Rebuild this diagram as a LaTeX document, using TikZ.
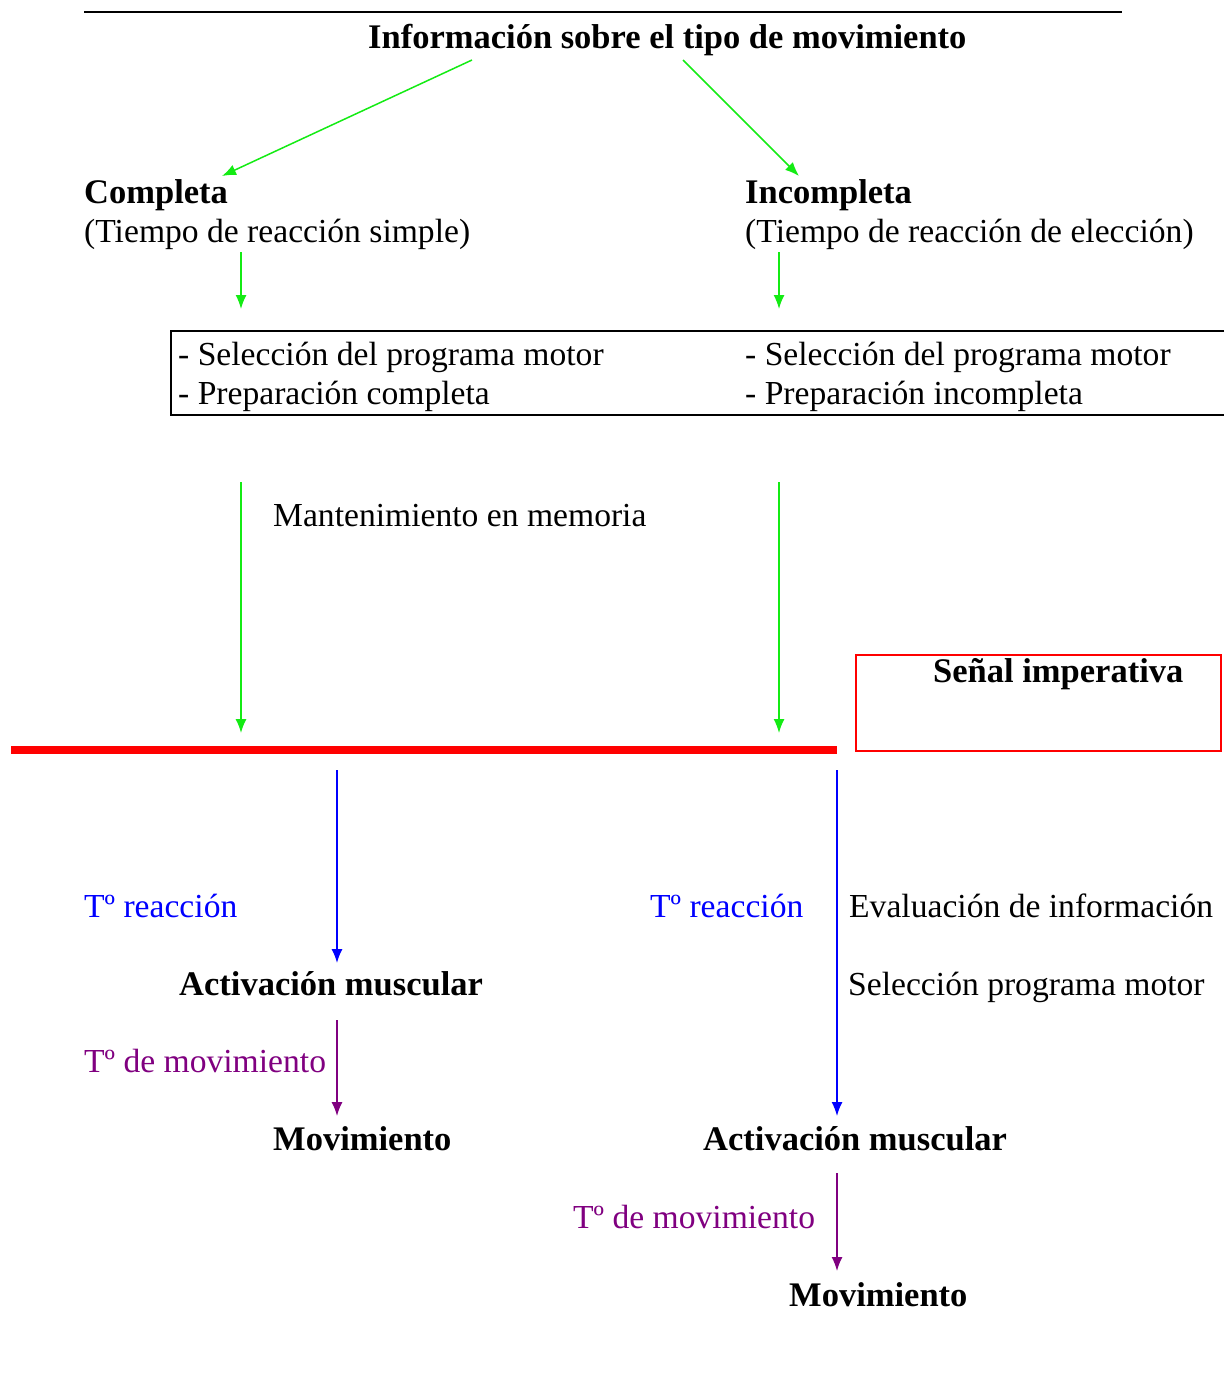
\documentclass[tikz,border=0pt]{standalone}
\usepackage{fontspec}
\setmainfont{Liberation Serif}
\usetikzlibrary{arrows.meta}
\definecolor{lgreen}{RGB}{20,235,20}
\definecolor{tblue}{RGB}{0,0,255}
\definecolor{tpurple}{RGB}{128,0,128}
\definecolor{tred}{RGB}{255,0,0}

\tikzset{
  txt/.style={anchor=base west, inner sep=0pt, font=\fontsize{33.6}{40}\selectfont},
  bold/.style={txt, font=\fontsize{34.5}{40}\selectfont\bfseries},
  tip/.style={-{Latex[length=14pt,width=11pt]}, line width=1.5pt},
  garrow/.style={tip, draw=lgreen},
  barrow/.style={tip, draw=tblue},
  parrow/.style={tip, draw=tpurple}
}

\begin{document}
\begin{tikzpicture}[x=1pt, y=-1pt]
\useasboundingbox (0,0) rectangle (1224,1380);
\draw[line width=2pt] (84,12) -- (1122,12);
\node[bold] at (368, 49) (title) {Información sobre el tipo de movimiento};
\node[bold] at (84, 204) (compl) {Completa};
\node[txt] at (84, 243) (complsub) {(Tiempo de reacción simple)};
\node[bold] at (745, 204) (incompl) {Incompleta};
\node[txt] at (745, 243) (incomplsub) {(Tiempo de reacción de elección)};
\coordinate (t1) at (472, 60);
\coordinate (t2) at (683, 60);
\coordinate (c1) at (222, 176);
\coordinate (c2) at (799, 176);
\draw[garrow] (t1) -- (c1);
\draw[garrow] (t2) -- (c2);
% recuadro de seleccion
\draw[line width=1.5pt] (1224, 331) -- (171, 331) -- (171, 415) -- (1224, 415);
\node[txt] at (178, 365) (selA) {- Selección del programa motor};
\node[txt] at (178, 404) (prepA) {- Preparación completa};
\node[txt] at (745, 365) (selB) {- Selección del programa motor};
\node[txt] at (745, 404) (prepB) {- Preparación incompleta};
\coordinate (a1) at (241, 252);
\coordinate (a2) at (241, 309);
\coordinate (b1) at (779, 252);
\coordinate (b2) at (779, 309);
\draw[garrow] (a1) -- (a2);
\draw[garrow] (b1) -- (b2);
\node[txt] at (273, 526) (mant) {Mantenimiento en memoria};
\coordinate (a3) at (241, 482);
\coordinate (a4) at (241, 733);
\coordinate (b3) at (779, 482);
\coordinate (b4) at (779, 733);
\draw[garrow] (a3) -- (a4);
\draw[garrow] (b3) -- (b4);
% senal
\draw[tred, line width=2pt] (856, 655) rectangle (1221, 751);
\node[bold] at (933, 682) (senal) {Señal imperativa};
\coordinate (r1) at (11, 750);
\coordinate (r2) at (837, 750);
\draw[tred, line width=8pt] (r1) -- (r2);
% lado simple
\node[txt, text=tblue] at (84, 917) (treacA) {Tº reacción};
\node[bold] at (179, 995) (activA) {Activación muscular};
\node[txt, text=tpurple] at (84, 1072) (tmovA) {Tº de movimiento};
\node[bold] at (273, 1150) (movA) {Movimiento};
\coordinate (p1) at (337, 770);
\coordinate (p2) at (337, 963);
\coordinate (p3) at (337, 1020);
\coordinate (p4) at (337, 1116);
\draw[barrow] (p1) -- (p2);
\draw[parrow] (p3) -- (p4);
% lado eleccion
\node[txt, text=tblue] at (650, 917) (treacB) {Tº reacción};
\node[txt] at (849, 917) (evalinfo) {Evaluación de información};
\node[txt] at (848, 995) (selprog) {Selección programa motor};
\node[bold] at (703, 1150) (activB) {Activación muscular};
\node[txt, text=tpurple] at (573, 1228) (tmovB) {Tº de movimiento};
\node[bold] at (789, 1306) (movB) {Movimiento};
\coordinate (q1) at (837, 770);
\coordinate (q2) at (837, 1116);
\coordinate (q3) at (837, 1173);
\coordinate (q4) at (837, 1271);
\draw[barrow] (q1) -- (q2);
\draw[parrow] (q3) -- (q4);
\end{tikzpicture}
\end{document}
